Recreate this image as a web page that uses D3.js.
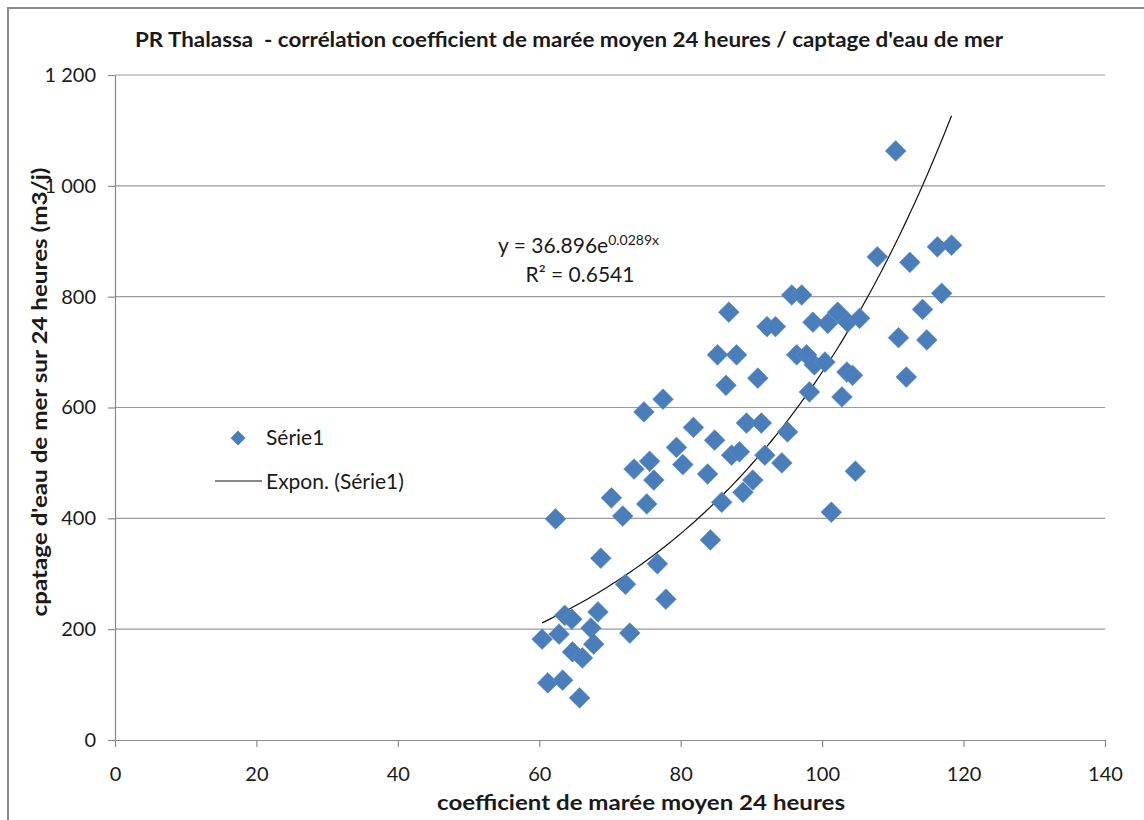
<!DOCTYPE html>
<html>
<head>
<meta charset="utf-8">
<script src="https://cdn.jsdelivr.net/npm/d3@7"></script>
<style>
  html, body { margin: 0; padding: 0; background: #fff; }
  svg text { font-family: Lato, "Open Sans", sans-serif; fill: #1a1a1a; }
</style>
</head>
<body>
<svg id="chart" width="1144" height="820"></svg>
<script>
// coefficient de marée (x) / captage d'eau de mer (y)
var coef = [
    110.4, 107.8, 112.4, 116.3, 118.3, 116.9, 114.2, 110.8, 114.8, 111.9,
    95.7, 97.1, 86.8, 92.2, 93.4, 98.7, 100.8, 102.2, 103.6, 105.3,
    85.2, 87.9, 96.4, 97.8, 98.9, 100.4, 103.5, 104.3, 86.4, 90.9,
    98.2, 102.8, 81.8, 89.3, 91.4, 84.8, 95.1, 87.2, 88.3, 91.9,
    94.3, 83.8, 90.2, 88.8, 104.7, 85.8, 101.3, 77.5, 74.8, 79.4,
    75.6, 73.4, 80.3, 76.2, 70.2, 75.2, 71.8, 62.3, 68.7, 76.7,
    72.2, 84.2, 77.9, 63.6, 64.6, 68.3, 67.3, 60.4, 62.8, 67.7,
    72.8, 64.7, 66.1, 61.2, 63.3, 65.7
];
var captage = [
    1063, 872, 862, 890, 893, 806, 777, 726, 722, 655,
    803, 803, 772, 746, 746, 754, 752, 772, 754, 761,
    695, 695, 695, 695, 677, 682, 664, 658, 640, 653,
    628, 619, 564, 572, 572, 541, 556, 514, 520, 514,
    500, 480, 469, 447, 485, 429, 411, 615, 592, 528,
    503, 489, 497, 469, 437, 426, 404, 399, 328, 318,
    281, 361, 254, 225, 218, 231, 202, 182, 191, 173,
    193, 159, 148, 103, 108, 76
];

// exponential trend line as printed on the chart
var trend_a = 36.896;
var trend_b = 0.0289;
var trend_r2 = "0.6541";

var x_ticks = [0, 20, 40, 60, 80, 100, 120, 140];
var y_ticks = [0, 200, 400, 600, 800, 1000, 1200];

var title = "PR Thalassa  - corrélation coefficient de marée moyen 24 heures / captage d'eau de mer";
var x_title = "coefficient de marée moyen 24 heures";
var y_title = "cpatage d'eau de mer sur 24 heures (m3/j)";

var svg = d3.select("#chart");

var x = d3.scaleLinear().domain([0, 140]).range([115, 1105]);
var y = d3.scaleLinear().domain([0, 1200]).range([740, 75]);

var fr = d3.formatLocale({decimal: ",", thousands: " ", grouping: [3], currency: ["", " €"]});
var fmt = fr.format(",d");

// outer chart frame (cut off at right and bottom in the original)
svg.append("rect")
   .attr("x", 8).attr("y", 8)
   .attr("width", 1200).attr("height", 900)
   .attr("fill", "none")
   .attr("stroke", "#8a8a8a")
   .attr("stroke-width", 2);

// horizontal gridlines
svg.append("g")
   .selectAll("line")
   .data(y_ticks.slice(1))
   .enter()
   .append("line")
   .attr("x1", x(0)).attr("x2", x(140))
   .attr("y1", function(d) { return y(d); })
   .attr("y2", function(d) { return y(d); })
   .attr("stroke", "#9a9a9a")
   .attr("stroke-width", 1.2);

var x_axis = svg.append("g")
   .attr("transform", "translate(0," + y(0) + ")")
   .call(d3.axisBottom(x).tickValues(x_ticks).tickSize(7).tickPadding(20).tickSizeOuter(0));

var y_axis = svg.append("g")
   .attr("transform", "translate(" + x(0) + ",0)")
   .call(d3.axisLeft(y).tickValues(y_ticks).tickFormat(fmt).tickSize(7).tickPadding(12).tickSizeOuter(0));

[x_axis, y_axis].forEach(function(a) {
    a.select(".domain").attr("stroke", "#8a8a8a").attr("stroke-width", 1.2);
    a.selectAll(".tick line").attr("stroke", "#8a8a8a").attr("stroke-width", 1.2);
    a.selectAll(".tick text")
     .style("font-family", "Lato, 'Open Sans', sans-serif")
     .style("font-size", "20px")
     .attr("fill", "#1a1a1a");
});

// trend line over the data range
var x_min = d3.min(coef), x_max = d3.max(coef);
var trend = d3.range(0, 101).map(function(i) {
    var xv = x_min + (x_max - x_min) * i / 100;
    return [xv, trend_a * Math.exp(trend_b * xv)];
});
svg.append("path")
   .datum(trend)
   .attr("fill", "none")
   .attr("stroke", "#111")
   .attr("stroke-width", 1.2)
   .attr("d", d3.line().x(function(d) { return x(d[0]); }).y(function(d) { return y(d[1]); }));

// diamond markers
var diamond = d3.symbol().type(d3.symbolSquare).size(215);
svg.append("g")
   .selectAll("path")
   .data(d3.range(coef.length))
   .enter()
   .append("path")
   .attr("d", diamond)
   .attr("transform", function(i) {
       return "translate(" + x(coef[i]) + "," + y(captage[i]) + ") rotate(45)";
   })
   .attr("fill", "#4a7ebb")
   .attr("stroke", "#5b8cc6")
   .attr("stroke-width", 0.6);

// titles, stretched to the widths they take in the original
svg.append("text")
   .attr("x", 569).attr("y", 47)
   .attr("text-anchor", "middle")
   .attr("textLength", 868).attr("lengthAdjust", "spacingAndGlyphs")
   .style("white-space", "pre")
   .style("font-size", "20px").style("font-weight", "bold")
   .text(title);

svg.append("text")
   .attr("x", 641).attr("y", 810)
   .attr("text-anchor", "middle")
   .attr("textLength", 408).attr("lengthAdjust", "spacingAndGlyphs")
   .style("font-size", "20px").style("font-weight", "bold")
   .text(x_title);

svg.append("text")
   .attr("transform", "translate(47,392) rotate(-90)")
   .attr("text-anchor", "middle")
   .attr("textLength", 449).attr("lengthAdjust", "spacingAndGlyphs")
   .style("font-size", "20px").style("font-weight", "bold")
   .text(y_title);

// trend equation
var eq = svg.append("text")
   .attr("x", 498).attr("y", 253)
   .style("font-size", "21px");
eq.append("tspan").text("y = " + trend_a + "e");
eq.append("tspan").attr("dy", -8).style("font-size", "14px").text(trend_b + "x");

svg.append("text")
   .attr("x", 580).attr("y", 282)
   .attr("text-anchor", "middle")
   .style("font-size", "21px")
   .text("R² = " + trend_r2);

// legend
var legend = svg.append("g");
legend.append("path")
   .attr("d", d3.symbol().type(d3.symbolSquare).size(110))
   .attr("transform", "translate(238,438) rotate(45)")
   .attr("fill", "#4a7ebb");
legend.append("text")
   .attr("x", 266).attr("y", 445)
   .style("font-size", "21px")
   .text("Série1");
legend.append("line")
   .attr("x1", 215).attr("x2", 262)
   .attr("y1", 481).attr("y2", 481)
   .attr("stroke", "#111").attr("stroke-width", 1.2);
legend.append("text")
   .attr("x", 266).attr("y", 489)
   .style("font-size", "21px")
   .text("Expon. (Série1)");
</script>
</body>
</html>
